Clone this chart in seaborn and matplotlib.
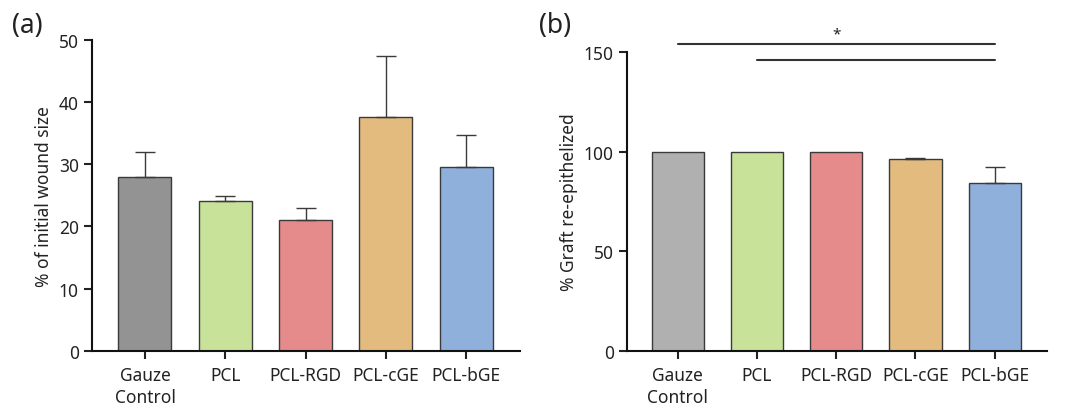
import matplotlib
matplotlib.use("Agg")
import matplotlib.pyplot as plt
import seaborn as sns
import pandas as pd

# ── Data ─────────────────────────────────────────────────────
groups = ["Gauze\nControl", "PCL", "PCL-RGD", "PCL-cGE", "PCL-bGE"]

wound_mean = [28.0, 24.0, 21.0, 37.5, 29.6]
wound_sem  = [4.0, 0.9, 1.9, 9.9, 5.0]

graft_mean = [100.0, 100.0, 100.0, 96.4, 84.5]
graft_sem  = [0.0, 0.0, 0.0, 0.5, 7.9]

colors_a = ["#939393", "#c9e29a", "#e68b8b", "#e3bb7f", "#8eb0db"]
colors_b = ["#b0b0b0", "#c9e29a", "#e68b8b", "#e3bb7f", "#8eb0db"]

# significance brackets (start group, end group, height)
sig_lines = [(0, 4, 154.2), (1, 4, 146.1)]
sig_star = (2, 159.5, "*")

sns.set_style("ticks")
plt.rcParams["font.family"] = ["Noto Sans", "DejaVu Sans"]
plt.rcParams["axes.linewidth"] = 1.5

fig = plt.figure(figsize=(10.72, 4.06), dpi=100)
ax_a = fig.add_axes([0.0858, 0.1337, 0.3992, 0.7661])
ax_b = fig.add_axes([0.5849, 0.1337, 0.3918, 0.7350])


def draw_panel(ax, means, sems, colors, ymax, yticks, ylabel, xlim):
    df = pd.DataFrame({"group": groups, "value": means})
    sns.barplot(data=df, x="group", y="value", hue="group", palette=colors,
                legend=False, width=0.66, saturation=1, edgecolor="#3a3a3a",
                linewidth=1.0, ax=ax)
    # upper error bars only, skipped where there is no spread
    idx = [i for i, s in enumerate(sems) if s > 0]
    ax.errorbar(idx, [means[i] for i in idx],
                yerr=[[0] * len(idx), [sems[i] for i in idx]],
                fmt="none", ecolor="#3a3a3a", elinewidth=1.0, capsize=7,
                capthick=1.0)
    ax.set_ylim(0, ymax)
    ax.set_xlim(*xlim)
    ax.set_yticks(yticks)
    ax.set_xlabel("")
    ax.set_ylabel(ylabel, fontsize=12.5, color="#222222")
    ax.tick_params(axis="both", labelsize=12.5, colors="#222222", width=1.5,
                   length=6)
    ax.tick_params(axis="x", pad=5)
    for lbl in ax.get_xticklabels():
        lbl.set_linespacing(1.3)
    sns.despine(ax=ax)
    ax.spines["left"].set_color("#111111")
    ax.spines["bottom"].set_color("#111111")


draw_panel(ax_a, wound_mean, wound_sem, colors_a, 50, range(0, 51, 10),
           "% of initial wound size", (-0.66, 4.67))
draw_panel(ax_b, graft_mean, graft_sem, colors_b, 150, range(0, 151, 50),
           "% Graft re-epithelized", (-0.64, 4.66))

for x0, x1, h in sig_lines:
    ax_b.plot([x0, x1], [h, h], color="#333333", lw=1.5, clip_on=False)
ax_b.text(sig_star[0], sig_star[1], sig_star[2], ha="center", va="center",
          fontsize=11, color="#222222", clip_on=False)

fig.text(0.011, 0.935, "(a)", fontsize=19, color="#222222", va="center")
fig.text(0.503, 0.935, "(b)", fontsize=19, color="#222222", va="center")

fig.savefig("out.png", dpi=100)
